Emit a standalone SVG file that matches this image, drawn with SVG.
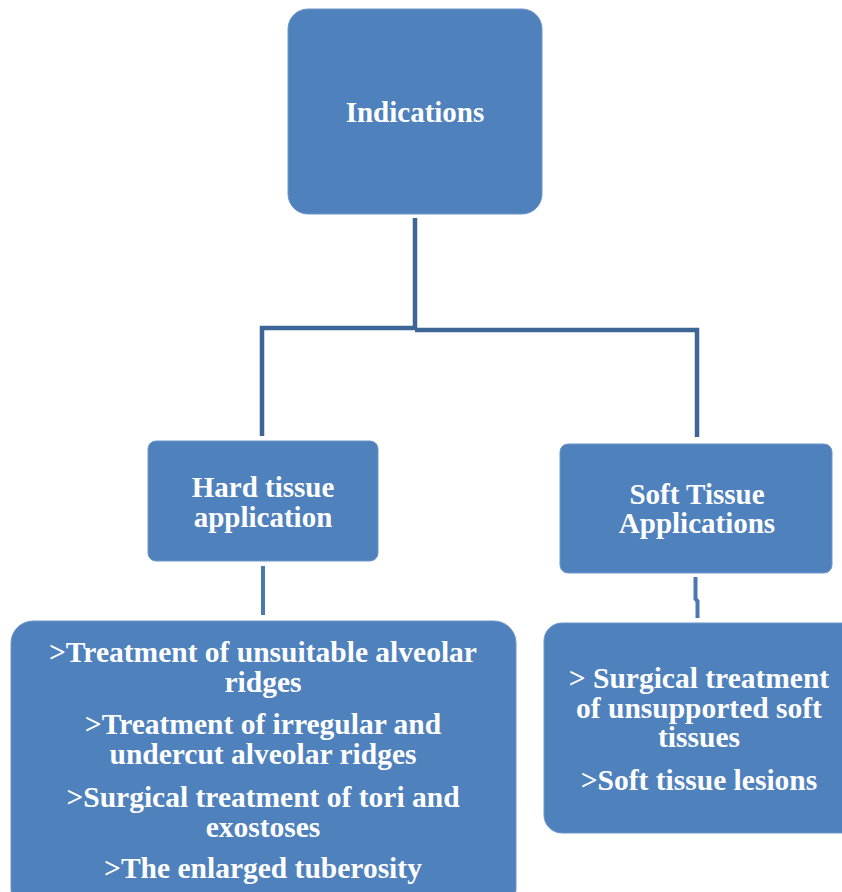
<svg xmlns="http://www.w3.org/2000/svg" width="842" height="892" viewBox="0 0 842 892">
<style>
.box{fill:#4f81bd;stroke:#6f95c8;stroke-width:1}
.t{font-family:"Liberation Serif","Times New Roman",serif;font-weight:bold;fill:#ffffff;text-anchor:middle;font-size:29px}
.l{font-size:29.5px}
.c{fill:none;stroke:#3d6595;stroke-width:4.5;stroke-linejoin:miter}
.c2{fill:none;stroke:#4a78b0;stroke-width:4}
</style>
<rect width="842" height="892" fill="#ffffff"/>
<g id="connectors">
<path class="c" d="M415 218 V329"/>
<path class="c" d="M262 436 V328 H415"/>
<path class="c" d="M415 330 H697 V437"/>
<path class="c2" d="M263 566 V615"/>
<path class="c2" d="M695.5 577 V599 L697.5 601 V618"/>
</g>
<g id="indications">
<rect class="box" x="288" y="9" width="254" height="205" rx="20"/>
<text class="t" x="415" y="122">Indications</text>
</g>
<g id="hard">
<rect class="box" x="148" y="441" width="230" height="120" rx="8"/>
<text class="t" x="263" y="497">Hard tissue</text>
<text class="t" x="263" y="527">application</text>
</g>
<g id="soft">
<rect class="box" x="560" y="444" width="272" height="129" rx="8"/>
<text class="t" x="697" y="504">Soft Tissue</text>
<text class="t" x="697" y="533">Applications</text>
</g>
<g id="hard-list">
<rect class="box" x="11" y="621" width="505" height="290" rx="22"/>
<text class="t l" x="263" y="662">&gt;Treatment of unsuitable alveolar</text>
<text class="t l" x="263" y="692">ridges</text>
<text class="t l" x="263" y="734">&gt;Treatment of irregular and</text>
<text class="t l" x="263" y="764">undercut alveolar ridges</text>
<text class="t l" x="263" y="807">&gt;Surgical treatment of tori and</text>
<text class="t l" x="263" y="837">exostoses</text>
<text class="t l" x="263" y="878">&gt;The enlarged tuberosity</text>
</g>
<g id="soft-list">
<rect class="box" x="544" y="623" width="320" height="210" rx="18"/>
<text class="t l" x="699" y="688">&gt; Surgical treatment</text>
<text class="t l" x="699" y="718">of unsupported soft</text>
<text class="t l" x="699" y="747">tissues</text>
<text class="t l" x="699" y="790">&gt;Soft tissue lesions</text>
</g>
</svg>
